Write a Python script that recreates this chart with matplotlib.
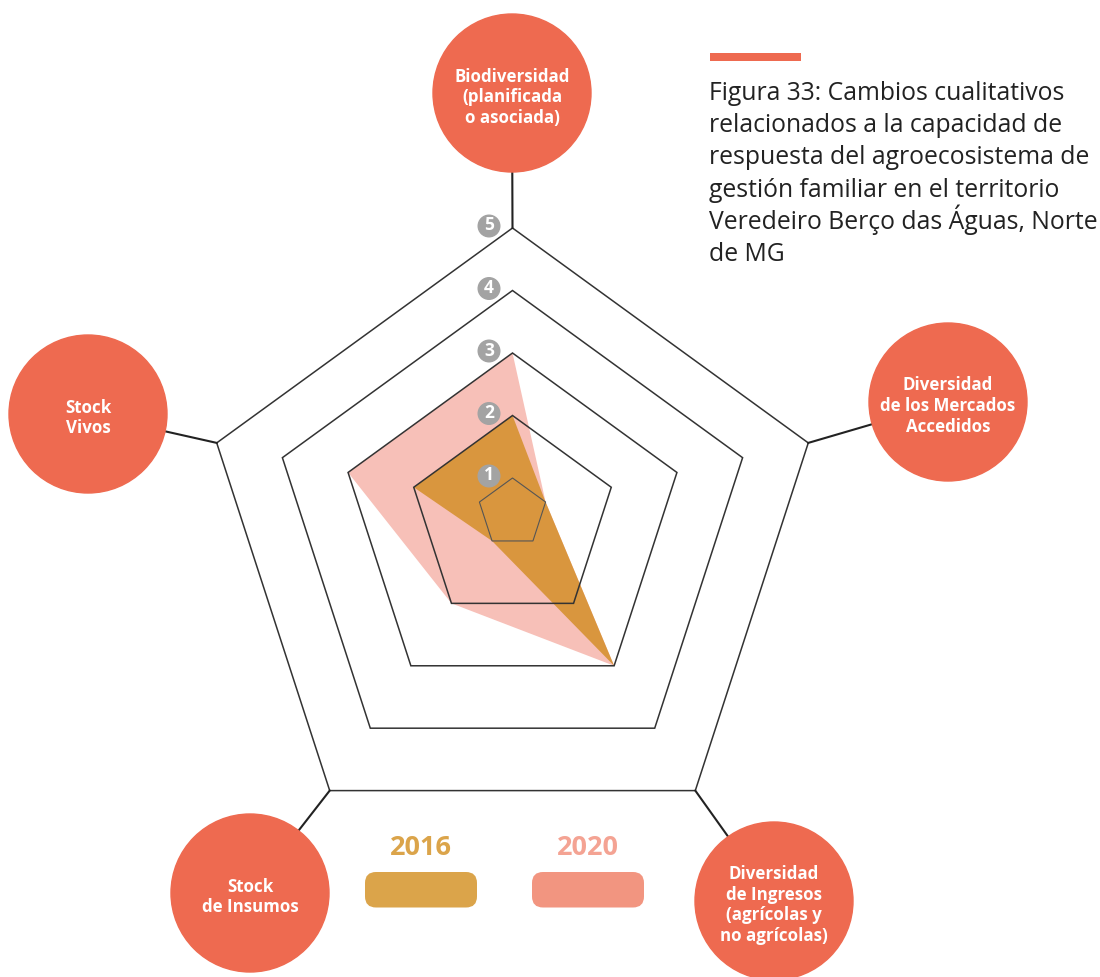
import numpy as np
import matplotlib.pyplot as plt
from matplotlib.patches import Circle, Polygon, FancyBboxPatch

# --- data -------------------------------------------------------------
axis_labels = [
    "Biodiversidad\n(planificada\no asociada)",
    "Diversidad\nde los Mercados\nAccedidos",
    "Diversidad\nde Ingresos\n(agrícolas y\nno agrícolas)",
    "Stock\nde Insumos",
    "Stock\nVivos",
]
values_2016 = [2, 1, 3, 1, 2]
values_2020 = [3, 1, 3, 2, 3]
levels = [1, 2, 3, 4, 5]
years = ["2016", "2020"]
title_lines = [
    "Figura 33: Cambios cualitativos",
    "relacionados a la capacidad de",
    "respuesta del agroecosistema de",
    "gestión familiar en el territorio",
    "Veredeiro Berço das Águas, Norte",
    "de MG",
]

# --- style / layout ---------------------------------------------------
CORAL = "#EE6A50"
FILL_2016 = "#D9963E"
FILL_2020 = "#F7C0B8"
LEG_2016 = "#DBA44A"
LEG_2020 = "#F29580"
TXT_2020 = "#F4A393"
GRID = "#333333"
FONT = "Open Sans"

# radial scale of the drawing (pixels): radius and centre shift per level
CX, CY0 = 512.5, 512.8
R0, DR, DCY = 34.8, 69.05, 6.55
angles = np.deg2rad(np.arange(len(axis_labels)) * 72.0)
label_centres = [(512, 93), (948, 402), (774, 901), (250, 893), (88, 414)]
LABEL_R = 79


def radar_xy(value, angle):
    r = R0 + DR * (value - 1)
    cy = CY0 + DCY * (value - 1)
    return CX + r * np.sin(angle), cy - r * np.cos(angle)


def polygon_for(values):
    return [radar_xy(v, a) for v, a in zip(values, angles)]


fig = plt.figure(figsize=(11, 9.77), dpi=100)
ax = fig.add_axes([0, 0, 1, 1])
ax.set_xlim(0, 1100)
ax.set_ylim(977, 0)
ax.axis("off")

# filled series, 2020 below 2016
ax.add_patch(Polygon(polygon_for(values_2020), closed=True, facecolor=FILL_2020,
                     edgecolor="none", zorder=1))
ax.add_patch(Polygon(polygon_for(values_2016), closed=True, facecolor=FILL_2016,
                     edgecolor="none", zorder=2))

# level pentagons
for lv in levels:
    pts = polygon_for([lv] * len(angles))
    lw, col = (0.8, "#555555") if lv == 1 else (1.1, GRID)
    ax.add_patch(Polygon(pts, closed=True, fill=False, edgecolor=col, lw=lw, zorder=3))

# axis spokes and label circles
outer = polygon_for([levels[-1]] * len(angles))
for (vx, vy), (lx, ly), lab in zip(outer, label_centres, axis_labels):
    ax.plot([vx, lx], [vy, ly], color="#222222", lw=1.5, zorder=3)
    ax.add_patch(Circle((lx, ly), LABEL_R, color=CORAL, zorder=4))
    rows = lab.split("\n")
    for i, row in enumerate(rows):
        yy = ly + 4 + (i - (len(rows) - 1) / 2) * 20.5
        ax.text(lx, yy, row, color="white", fontsize=12.2, fontweight="bold",
                family=FONT, ha="center", va="center", zorder=5)

# level markers
for lv in levels:
    tx, ty = radar_xy(lv, 0.0)
    ax.add_patch(Circle((tx - 23.5, ty - 2), 10.8, color="#A3A3A3", zorder=6))
    ax.text(tx - 23.5, ty - 2.5, str(lv), color="white", fontsize=12.5,
            fontweight="bold", family=FONT, ha="center", va="center", zorder=7)

# legend
for name, x0, box_col, txt_col in [(years[0], 365, LEG_2016, LEG_2016),
                                    (years[1], 532, LEG_2020, TXT_2020)]:
    ax.add_patch(FancyBboxPatch((x0, 872), 112, 35.5,
                                boxstyle="round,pad=0,rounding_size=11",
                                facecolor=box_col, edgecolor="none", zorder=2))
    ax.text(x0 + 56, 848, name, color=txt_col, fontsize=19.5, fontweight="bold",
            family=FONT, ha="center", va="center")

# caption
ax.add_patch(plt.Rectangle((710, 53), 91, 8, color=CORAL, lw=0))
for i, row in enumerate(title_lines):
    ax.text(709, 100 + 32.2 * i, row, color="#222222", fontsize=17.8, family=FONT,
            ha="left", va="baseline")

fig.savefig("out.png", dpi=100)
